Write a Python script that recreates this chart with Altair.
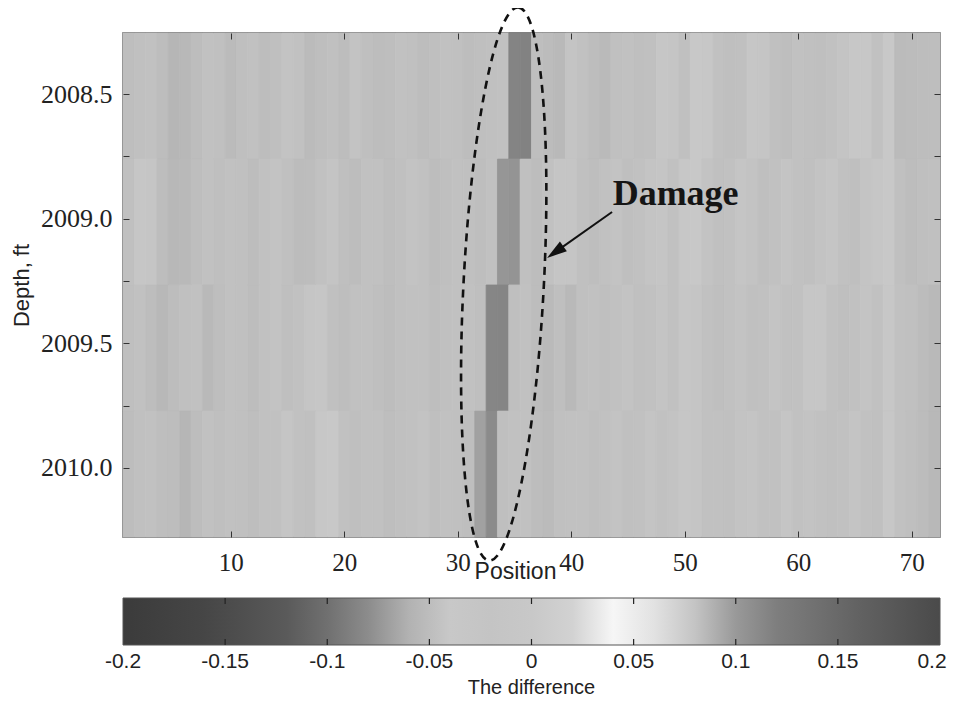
import altair as alt
import pandas as pd

# ---------------- data ----------------
positions = list(range(1, 73))
depth_top = [2008.255, 2008.761, 2009.266, 2009.772]
depth_bottom = [2008.761, 2009.266, 2009.772, 2010.277]

row1 = [-0.049, -0.047, -0.046, -0.050, -0.056, -0.055, -0.050, -0.046, -0.047, -0.052,
        -0.048, -0.046, -0.050, -0.048, -0.045, -0.046, -0.052, -0.049, -0.047, -0.050,
        -0.045, -0.048, -0.050, -0.049, -0.046, -0.047, -0.050, -0.048, -0.046, -0.047,
        -0.050, -0.048, -0.047, -0.046, -0.086, -0.087, -0.049, -0.051, -0.054, -0.044,
        -0.046, -0.050, -0.053, -0.047, -0.046, -0.048, -0.047, -0.042, -0.043, -0.047,
        -0.040, -0.041, -0.046, -0.048, -0.047, -0.042, -0.043, -0.047, -0.049, -0.046,
        -0.047, -0.048, -0.046, -0.044, -0.041, -0.041, -0.046, -0.039, -0.052, -0.051,
        -0.050, -0.049]
row2 = [-0.047, -0.042, -0.043, -0.050, -0.055, -0.054, -0.049, -0.046, -0.048, -0.046,
        -0.047, -0.050, -0.046, -0.045, -0.047, -0.051, -0.050, -0.046, -0.044, -0.048,
        -0.050, -0.046, -0.046, -0.049, -0.047, -0.045, -0.046, -0.050, -0.048, -0.046,
        -0.047, -0.049, -0.046, -0.075, -0.076, -0.047, -0.050, -0.046, -0.043, -0.043,
        -0.047, -0.049, -0.046, -0.045, -0.048, -0.046, -0.044, -0.043, -0.046, -0.041,
        -0.040, -0.045, -0.047, -0.046, -0.043, -0.045, -0.048, -0.046, -0.044, -0.046,
        -0.047, -0.045, -0.043, -0.046, -0.048, -0.044, -0.042, -0.040, -0.047, -0.050,
        -0.048, -0.047]
row3 = [-0.048, -0.046, -0.050, -0.055, -0.050, -0.047, -0.046, -0.054, -0.049, -0.046,
        -0.047, -0.050, -0.046, -0.045, -0.048, -0.046, -0.043, -0.042, -0.047, -0.049,
        -0.046, -0.046, -0.048, -0.050, -0.047, -0.046, -0.046, -0.049, -0.047, -0.046,
        -0.046, -0.048, -0.084, -0.085, -0.048, -0.046, -0.050, -0.053, -0.048, -0.054,
        -0.047, -0.046, -0.048, -0.046, -0.045, -0.047, -0.046, -0.044, -0.046, -0.042,
        -0.043, -0.046, -0.048, -0.046, -0.045, -0.047, -0.046, -0.044, -0.046, -0.046,
        -0.042, -0.042, -0.046, -0.048, -0.046, -0.044, -0.046, -0.041, -0.046, -0.047,
        -0.051, -0.054]
row4 = [-0.050, -0.047, -0.046, -0.049, -0.050, -0.056, -0.050, -0.046, -0.048, -0.046,
        -0.047, -0.049, -0.046, -0.046, -0.043, -0.046, -0.047, -0.041, -0.040, -0.046,
        -0.048, -0.046, -0.046, -0.049, -0.047, -0.046, -0.045, -0.048, -0.046, -0.047,
        -0.049, -0.069, -0.081, -0.048, -0.046, -0.046, -0.050, -0.052, -0.047, -0.046,
        -0.046, -0.048, -0.046, -0.045, -0.047, -0.046, -0.044, -0.046, -0.045, -0.042,
        -0.043, -0.046, -0.046, -0.047, -0.045, -0.044, -0.046, -0.046, -0.043, -0.046,
        -0.045, -0.046, -0.047, -0.046, -0.044, -0.046, -0.047, -0.041, -0.046, -0.048,
        -0.051, -0.055]
rows = [row1, row2, row3, row4]

x_ticks = [10, 20, 30, 40, 50, 60, 70]
y_ticks = [2008.5, 2008.75, 2009.0, 2009.25, 2009.5, 2009.75, 2010.0]
cbar_ticks = [-0.2, -0.15, -0.1, -0.05, 0, 0.05, 0.1, 0.15, 0.2]
cbar_labels = ["-0.2", "-0.15", "-0.1", "-0.05", "0", "0.05", "0.1", "0.15", "0.2"]
cbar_inner_ticks = [-0.15, -0.1, -0.05, 0, 0.05, 0.1, 0.15]
cbar_range = [-0.2, 0.2]

color_stops = [-0.20, -0.16, -0.12, -0.10, -0.08, -0.06, -0.04, -0.02, 0.00,
               0.02, 0.04, 0.06, 0.08, 0.10, 0.12, 0.16, 0.20]
color_grays = ["#3b3b3b", "#464646", "#5a5a5a", "#707070", "#8c8c8c", "#b2b2b2",
               "#c8c8c8", "#c4c4c4", "#c8c8c8", "#d2d2d2", "#f6f6f6", "#e2e2e2",
               "#c4c4c4", "#999999", "#7e7e7e", "#626262", "#4a4a4a"]

# annotation anchors (data coordinates)
ellipse_center = (34.05, 2009.262)
arrow_start = (43.60, 2008.973)
arrow_head = (38.59, 2009.134)
label_pos = (43.65, 2008.945)

records = []
for r, vals in enumerate(rows):
    assert len(vals) == len(positions)
    for p, v in zip(positions, vals):
        records.append({"x0": p - 0.5, "x1": p + 0.5,
                        "y0": depth_top[r], "y1": depth_bottom[r], "value": v})
df = pd.DataFrame(records)

xscale = alt.Scale(domain=[0.5, 72.5], nice=False, zero=False)
yscale = alt.Scale(domain=[2008.255, 2010.277], nice=False, zero=False, reverse=True)
cscale = alt.Scale(type="linear", domain=color_stops, range=color_grays, interpolate="rgb")

SERIF = "Liberation Serif"
SANS = "Liberation Sans"
TICK_COLOR = "#333333"

x_axis_bottom = alt.Axis(orient="bottom", values=x_ticks, offset=-6, tickSize=6,
                         domain=False, grid=False, tickColor=TICK_COLOR, tickWidth=1,
                         labelFont=SERIF, labelFontSize=25, labelColor="#222222",
                         labelPadding=13, title="Position", titleFont=SANS,
                         titleFontSize=23, titleFontWeight="normal", titleColor="#222222",
                         titleX=392, titleY=47, titleBaseline="alphabetic", zindex=2)
y_axis_left = alt.Axis(orient="left", values=y_ticks, offset=-6, tickSize=6,
                       domain=False, grid=False, tickColor=TICK_COLOR, tickWidth=1,
                       labelFont=SERIF, labelFontSize=26, labelColor="#222222",
                       labelPadding=11,
                       labelExpr="datum.value * 4 % 2 == 0 ? format(datum.value, '.1f') : ''",
                       title="Depth, ft", titleFont=SANS, titleFontSize=22,
                       titleFontWeight="normal", titleColor="#222222", titlePadding=7,
                       zindex=2)
x_axis_top = alt.Axis(orient="top", values=x_ticks, offset=-6, tickSize=6, domain=False,
                      grid=False, labels=False, title=None, tickColor=TICK_COLOR,
                      tickWidth=1, zindex=2)
y_axis_right = alt.Axis(orient="right", values=y_ticks, offset=-6, tickSize=6, domain=False,
                        grid=False, labels=False, title=None, tickColor=TICK_COLOR,
                        tickWidth=1, zindex=2)

base = alt.Chart(df)
heat = base.mark_rect(
    stroke={"expr": "scale('color', datum['value'])"}, strokeWidth=0.8
).encode(
    x=alt.X("x0:Q", scale=xscale, axis=x_axis_bottom),
    x2="x1:Q",
    y=alt.Y("y0:Q", scale=yscale, axis=y_axis_left),
    y2="y1:Q",
    color=alt.Color("value:Q", scale=cscale, legend=None),
)
frame_axes = base.mark_point(opacity=0).encode(
    x=alt.X("x0:Q", scale=xscale, axis=x_axis_top),
    y=alt.Y("y0:Q", scale=yscale, axis=y_axis_right),
)

ELLIPSE_PATH = "M0,-1 A0.145,1 0 1,1 0,1 A0.145,1 0 1,1 0,-1 Z"
ell = alt.Chart(pd.DataFrame({"x": [ellipse_center[0]], "y": [ellipse_center[1]]})).mark_point(
    shape=ELLIPSE_PATH, size=306916, angle=3.0, filled=False, stroke="#111111",
    strokeWidth=2.6, strokeDash=[8, 6], opacity=1
).encode(x=alt.X("x:Q", scale=xscale, axis=None), y=alt.Y("y:Q", scale=yscale, axis=None))

arrow_df = pd.DataFrame({"x": [arrow_start[0]], "y": [arrow_start[1]],
                         "x2": [arrow_head[0]], "y2": [arrow_head[1]]})
arrow_line = alt.Chart(arrow_df).mark_rule(strokeWidth=2, color="#111111").encode(
    x=alt.X("x:Q", scale=xscale, axis=None), y=alt.Y("y:Q", scale=yscale, axis=None),
    x2="x2:Q", y2="y2:Q")
arrow_tip = alt.Chart(arrow_df).mark_point(
    shape="M0,-1 L0.6,1 L-0.6,1 Z", size=400, angle=234.7, filled=True,
    color="#111111", opacity=1
).encode(x=alt.X("x2:Q", scale=xscale, axis=None), y=alt.Y("y2:Q", scale=yscale, axis=None))

label = alt.Chart(pd.DataFrame({"x": [label_pos[0]], "y": [label_pos[1]], "t": ["Damage"]})).mark_text(
    font=SERIF, fontWeight="bold", fontSize=36, align="left", baseline="alphabetic",
    color="#151515"
).encode(x=alt.X("x:Q", scale=xscale, axis=None), y=alt.Y("y:Q", scale=yscale, axis=None),
         text="t:N")

main = alt.layer(heat, frame_axes, ell, arrow_line, arrow_tip, label).resolve_axis(
    x="independent", y="independent"
)

# ---------------- colour bar ----------------
cb_scale = alt.Scale(domain=cbar_range, nice=False, zero=False)
span = cbar_range[1] - cbar_range[0]
gradient = {
    "gradient": "linear", "x1": 0, "x2": 1, "y1": 0, "y2": 0,
    "stops": [{"offset": (s - cbar_range[0]) / span, "color": c}
              for s, c in zip(color_stops, color_grays)],
}
CB_TOP, CB_BOT = 565, 612
cb_bar = alt.Chart(pd.DataFrame({"lo": [cbar_range[0]], "hi": [cbar_range[1]]})).mark_rect(
    fill=gradient, stroke="#555555", strokeWidth=1
).encode(x=alt.X("lo:Q", scale=cb_scale, axis=None), x2="hi:Q",
         y=alt.value(CB_TOP), y2=alt.value(CB_BOT))
tick_df = pd.DataFrame({"v": cbar_inner_ticks})
cb_ticks_top = alt.Chart(tick_df).mark_rule(color="#222222", strokeWidth=1.2).encode(
    x=alt.X("v:Q", scale=cb_scale, axis=None), y=alt.value(CB_TOP), y2=alt.value(CB_TOP + 6))
cb_ticks_bot = alt.Chart(tick_df).mark_rule(color="#222222", strokeWidth=1.2).encode(
    x=alt.X("v:Q", scale=cb_scale, axis=None), y=alt.value(CB_BOT - 6), y2=alt.value(CB_BOT))
cb_text = alt.Chart(pd.DataFrame({"v": cbar_ticks[:-1], "t": cbar_labels[:-1]})).mark_text(
    font=SANS, fontSize=21, color="#222222", align="center", baseline="middle"
).encode(x=alt.X("v:Q", scale=cb_scale, axis=None), y=alt.value(629), text="t:N")
cb_text_last = alt.Chart(pd.DataFrame({"v": cbar_ticks[-1:], "t": cbar_labels[-1:]})).mark_text(
    font=SANS, fontSize=21, color="#222222", align="center", baseline="middle", dx=-8
).encode(x=alt.X("v:Q", scale=cb_scale, axis=None), y=alt.value(629), text="t:N")
cb_title = alt.Chart(pd.DataFrame({"v": [0.0], "t": ["The difference"]})).mark_text(
    font=SANS, fontSize=20, color="#222222", align="center", baseline="alphabetic"
).encode(x=alt.X("v:Q", scale=cb_scale, axis=None), y=alt.value(661), text="t:N")
cbar = alt.layer(cb_bar, cb_ticks_top, cb_ticks_bot, cb_text, cb_text_last, cb_title)

chart = alt.layer(main, cbar).resolve_scale(x="independent").properties(
    width=817, height=504,
    autosize=alt.AutoSizeParams(type="none"),
    padding={"left": 115, "top": 25, "right": 10, "bottom": 160},
).configure_view(stroke="#555555", strokeWidth=1.5)

chart.save("out.html", embed_options={"renderer": "svg", "actions": False})
